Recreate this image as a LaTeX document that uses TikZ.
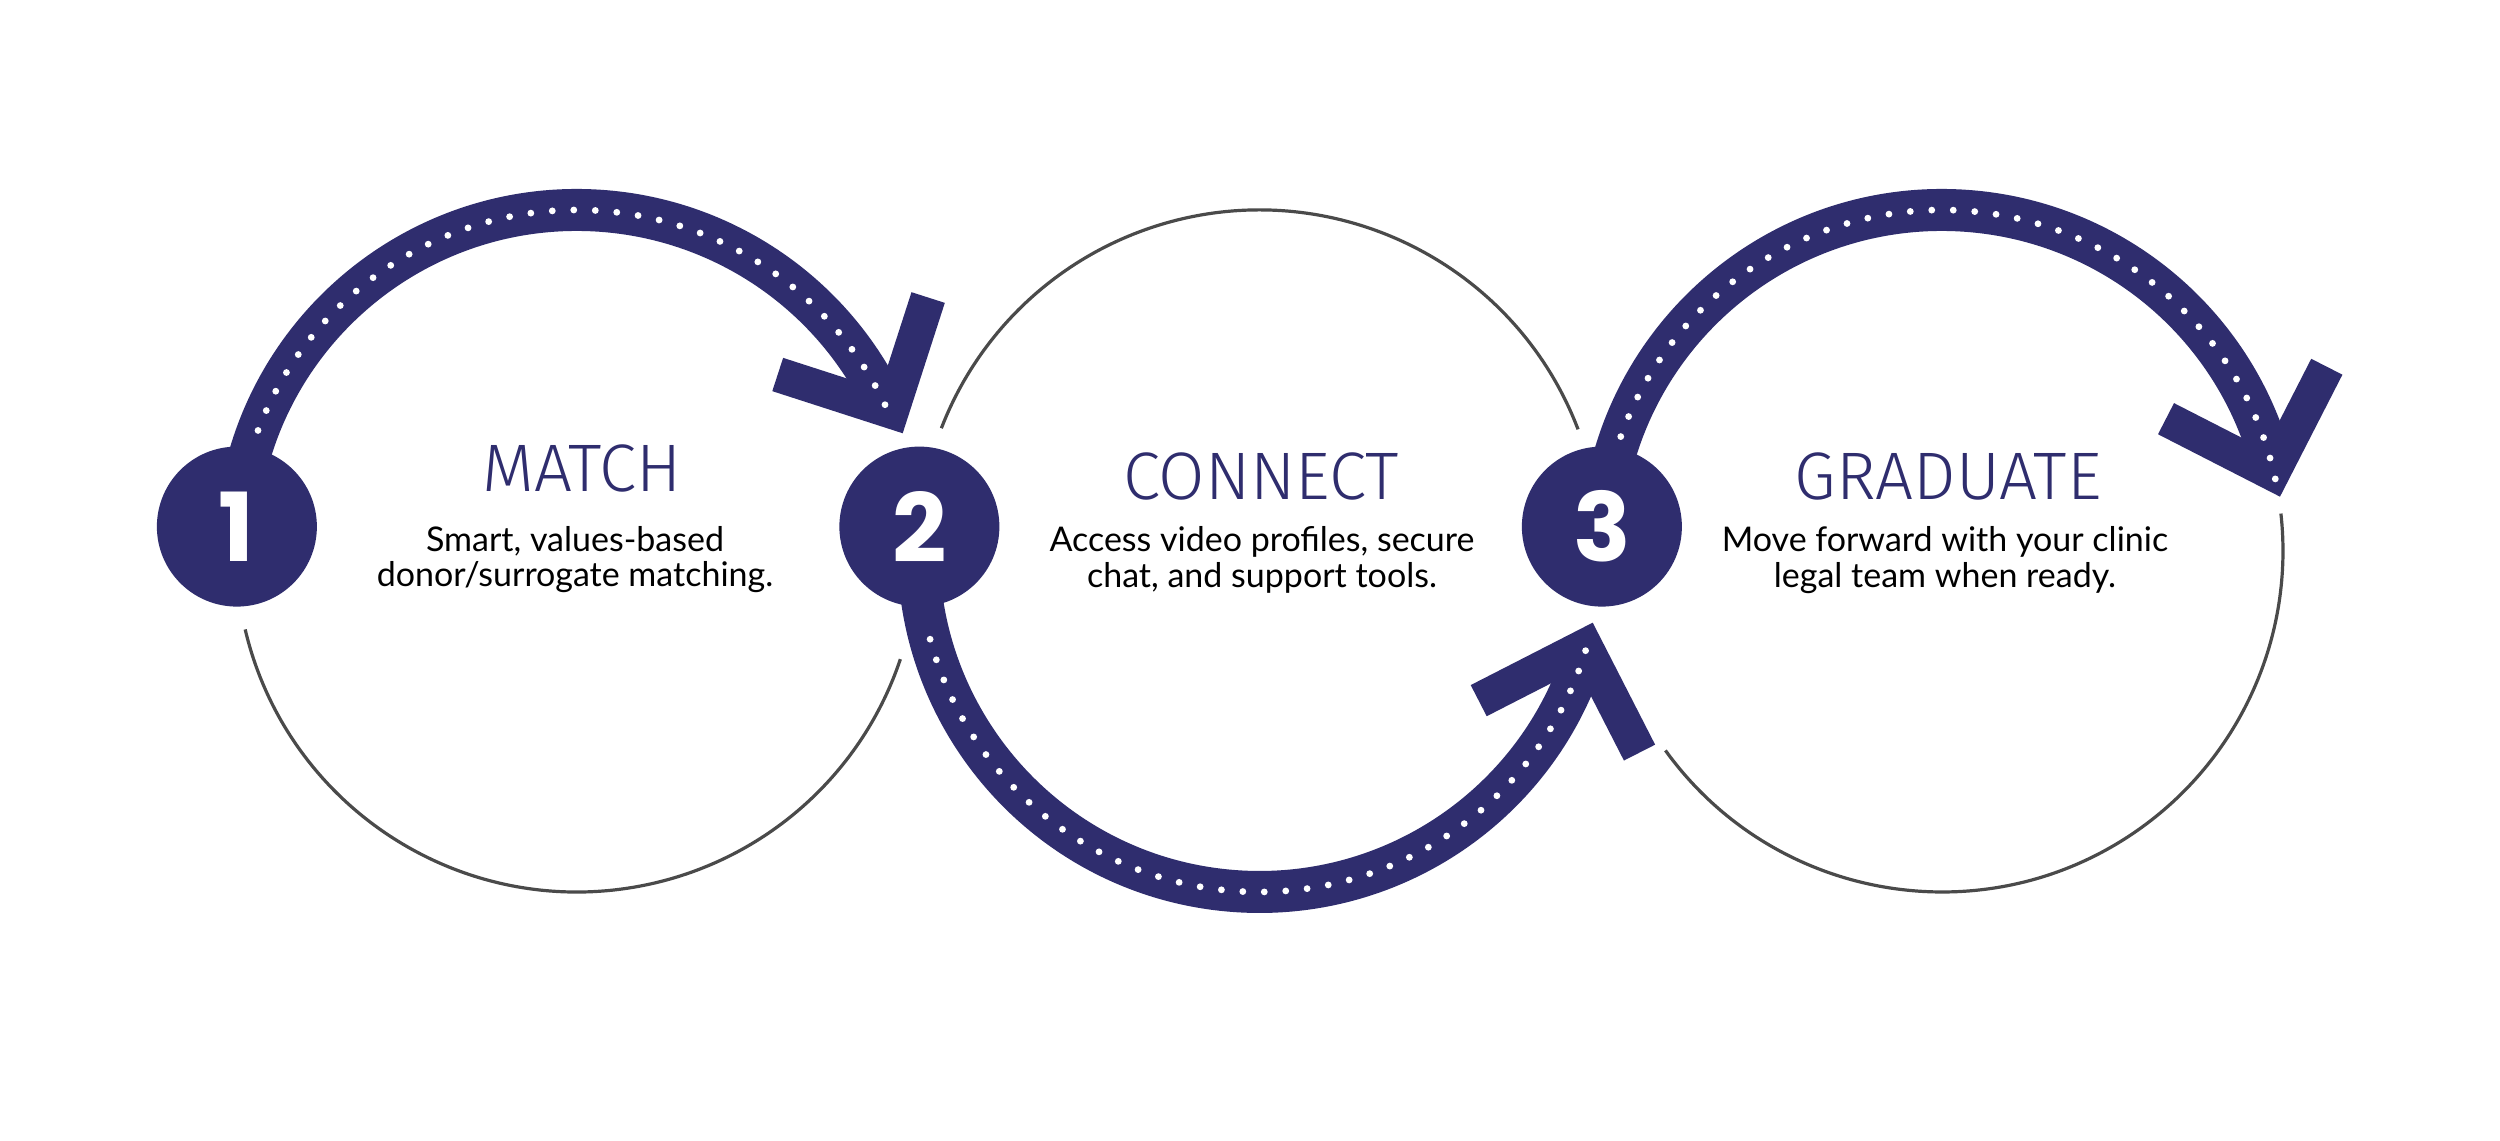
\documentclass[tikz,border=0pt]{standalone}
\usepackage{fontspec}
\setmainfont{Lato}
\newfontfamily\numfont{Poppins}
\IfFontExistsTF{Fira Sans Light}{\newfontfamily\titlefont{Fira Sans Light}}{%
  \IfFontExistsTF{FiraSans-Light.otf}{\newfontfamily\titlefont{FiraSans-Light.otf}}{%
    \IfFontExistsTF{Lato Light}{\newfontfamily\titlefont{Lato Light}}{%
      \newfontfamily\titlefont{Fira Sans}}}}
\definecolor{navy}{RGB}{47,45,110}
\definecolor{ringgray}{RGB}{74,74,74}
\newcommand\dotarc[4]{%
  \foreach \i in {0,...,#4}{%
    \pgfmathsetmacro\ang{#2+(#3-#2)*\i/#4}%
    \fill[white] ([shift={(\ang:341)}]#1) circle (3.4);}}
\tikzset{
  ring/.style={draw=ringgray, line width=0.8pt},
  band/.style={draw=navy, line width=10.5pt},
  stepdot/.style={circle, fill=navy, minimum size=40pt, inner sep=0pt, text=white,
    font=\numfont\bfseries\fontsize{23.8}{24}\selectfont},
  steptitle/.style={text=navy, font=\titlefont\fontsize{16.8}{17}\selectfont, inner sep=0pt, anchor=base},
  stepbody/.style={text=black, font=\fontsize{8.5}{8.9}\selectfont, align=center, inner sep=0pt, anchor=base},
  chevron/.pic={\fill[navy] (0,0) -- (-96.9,96.9) -- (-121.6,72.1) -- (-49.5,0)
      -- (-121.6,-72.1) -- (-96.9,-96.9) -- cycle;}
}
\begin{document}
\begin{tikzpicture}[x=0.25pt,y=0.25pt]
\useasboundingbox (0,0) rectangle (2500,1141);
\fill[white] (0,0) rectangle (2500,1141);
\coordinate (A) at (577,590);
\coordinate (B) at (1259.5,590);
\coordinate (C) at (1942,590);
% thin grey rings
\draw[ring] ([shift={(193.3:341)}]A) arc[start angle=193.3, end angle=341.5, radius=341];
\draw[ring] ([shift={(20.9:341)}]B) arc[start angle=20.9, end angle=158.9, radius=341];
\draw[ring] ([shift={(215.8:341)}]C) arc[start angle=215.8, end angle=366.3, radius=341];
% navy bands
\draw[band] ([shift={(176:341)}]A) arc[start angle=176, end angle=25, radius=341];
\draw[band] ([shift={(176:341)}]B) arc[start angle=176, end angle=343, radius=341];
\draw[band] ([shift={(176:341)}]C) arc[start angle=176, end angle=14, radius=341];
% arrow heads
\pic[rotate=-62.9] at (902.7,707.7) {chevron};
\pic[rotate=72.1] at (1592.7,518.3) {chevron};
\pic[rotate=-72.1] at (2280,644.3) {chevron};
% dots
\dotarc{A}{159.3}{25.4}{37}
\dotarc{B}{195}{343}{41}
\dotarc{C}{160.4}{12.2}{41}
% step circles
\node[stepdot] (n1) at ([shift={(175.9:341)}]A) {1};
\node[stepdot] (n2) at ([shift={(175.9:341)}]B) {2};
\node[stepdot] (n3) at ([shift={(175.9:341)}]C) {3};
% texts
\node[steptitle] (t1) at (582,649.5) {MATCH};
\node[steptitle] (t2) at (1261,641.5) {CONNECT};
\node[steptitle] (t3) at (1948,641.5) {GRADUATE};
\node[stepbody] (b1) at (575,554.3) {Smart, values-based\\donor/surrogate matching.};
\node[stepbody] (b2) at (1262,553.5) {Access video profiles, secure\\chat, and support tools.};
\node[stepbody] (b3) at (1945,553.5) {Move forward with your clinic\\legal team when ready.};
\end{tikzpicture}
\end{document}
